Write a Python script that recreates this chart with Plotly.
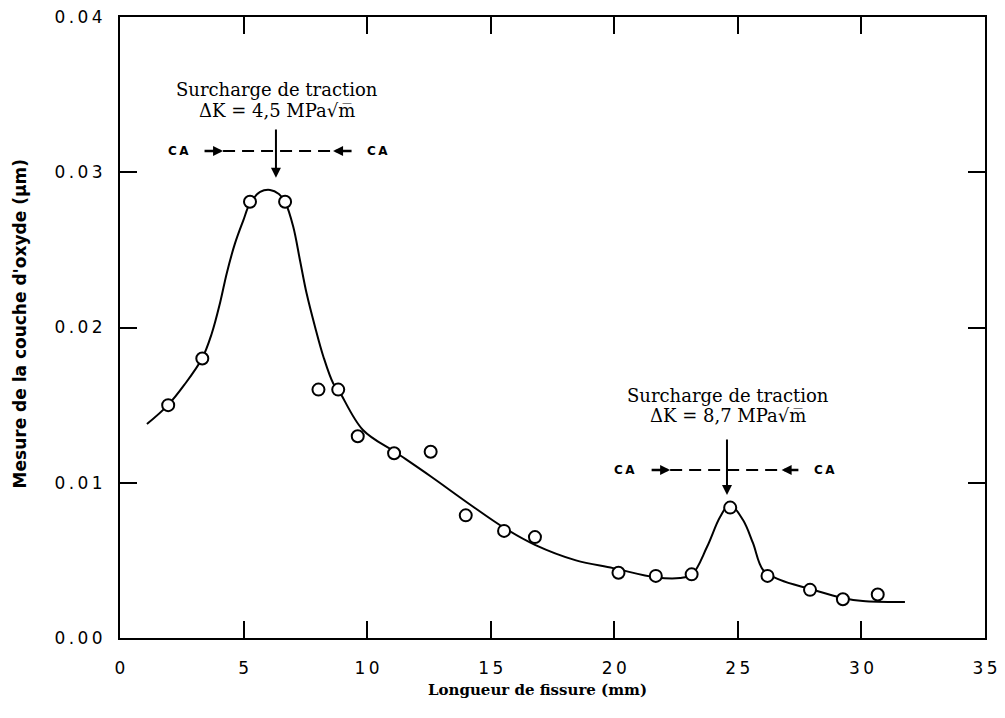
import plotly.graph_objects as go

# ---- data ----
point_x = [1.95, 3.33, 5.26, 6.68, 8.03, 8.83, 9.62, 11.09, 12.57, 13.99,
           15.54, 16.79, 20.17, 21.68, 23.13, 24.69, 26.2, 27.92, 29.25, 30.66]
point_y = [0.0150, 0.0180, 0.0281, 0.0281, 0.0160, 0.0160, 0.0130, 0.0119, 0.0120, 0.0079,
           0.0069, 0.0065, 0.0042, 0.0040, 0.0041, 0.0084, 0.0040, 0.0031, 0.0025, 0.0028]

curve_x = [1.09, 1.94, 2.60, 3.32, 3.71, 4.05, 4.32, 4.65, 4.99, 5.26, 5.67, 6.07, 6.43,
           6.68, 7.01, 7.28, 7.55, 7.89, 8.23, 8.63, 8.83, 9.83, 11.21, 12.58, 14.16,
           15.54, 16.79, 18.45, 19.95, 21.69, 22.66, 23.15, 23.75, 24.28, 24.67, 25.21,
           25.61, 26.02, 26.71, 27.92, 29.25, 30.06, 31.76]
curve_y = [0.01378, 0.0150, 0.0163, 0.0180, 0.0196, 0.0216, 0.0235, 0.0254, 0.0269, 0.0280,
           0.02873, 0.02886, 0.0286, 0.02808, 0.02649, 0.02435, 0.0222, 0.02005, 0.01812,
           0.0164, 0.0160, 0.0134, 0.0119, 0.0104, 0.0086, 0.0071, 0.0060, 0.0050, 0.0045,
           0.0039, 0.00386, 0.0041, 0.00586, 0.00779, 0.0086, 0.0076, 0.00612, 0.00438,
           0.00374, 0.00316, 0.00258, 0.00238, 0.00232]

x_ticks = [0, 5, 10, 15, 20, 25, 30, 35]
y_ticks = [0.0, 0.01, 0.02, 0.03, 0.04]
y_ticklabels = ["0.00", "0.01", "0.02", "0.03", "0.04"]

x_title = "Longueur de fissure (mm)"
y_title = "Mesure de la couche d'oxyde (µm)"
overload_title = ["Surcharge de traction", "Surcharge de traction"]
overload_dk = ["ΔK = 4,5 MPa√m̅", "ΔK = 8,7 MPa√m̅"]
ca_label = "C\u2009A"

THIN = "\u2009"
def spaced(s):
    return THIN.join(list(s))

fig = go.Figure()
fig.add_trace(go.Scatter(x=curve_x, y=curve_y, mode="lines",
                         line=dict(color="black", width=2, shape="spline", smoothing=1.0),
                         hoverinfo="skip", showlegend=False))
fig.add_trace(go.Scatter(x=point_x, y=point_y, mode="markers",
                         marker=dict(symbol="circle", size=12, color="white",
                                     line=dict(color="black", width=2)),
                         showlegend=False))

tick_font = dict(family="DejaVu Sans", size=17, color="black")
fig.update_xaxes(range=[0, 35], tickvals=x_ticks, ticktext=[spaced(str(v)) for v in x_ticks],
                 ticks="inside", ticklen=17, tickwidth=2, tickcolor="black",
                 showline=True, linewidth=2, linecolor="black", mirror="ticks",
                 showgrid=False, zeroline=False, tickfont=tick_font, ticklabelstandoff=14,
                 automargin=False, ticklabeloverflow="allow")
fig.update_yaxes(range=[0, 0.04], tickvals=y_ticks, ticktext=[spaced(t) for t in y_ticklabels],
                 ticks="inside", ticklen=17, tickwidth=2, tickcolor="black",
                 showline=True, linewidth=2, linecolor="black", mirror="ticks",
                 showgrid=False, zeroline=False, tickfont=tick_font, ticklabelstandoff=12,
                 automargin=False, ticklabeloverflow="allow")

annotations = []
shapes = []
serif = dict(family="DejaVu Serif", size=18, color="black")
ca_font = dict(family="DejaVu Sans", size=12, color="black", weight="bold")

# overload marks: (text_x, line1_y, line2_y, arrow_x, arrow_top, arrow_tip,
#                  dash_y, ca_left, arr_l0, arr_l1, arr_r0, arr_r1, ca_right)
marks = [
    (6.37, 0.0353, 0.0340, 6.31, 0.03285, 0.02965, 0.03137, 2.35, 3.36, 4.17, 9.43, 8.62, 10.42),
    (24.61, 0.01565, 0.01436, 24.56, 0.01288, 0.00921, 0.01082, 20.43, 21.45, 22.26, 27.51, 26.77, 28.49),
]
for i, m in enumerate(marks):
    tx, l1, l2, axx, atop, atip, dy, cal, al0, al1, ar0, ar1, car = m
    annotations.append(dict(x=tx, y=l1, xref="x", yref="y", text=overload_title[i],
                            showarrow=False, font=serif, xanchor="center", yanchor="middle"))
    annotations.append(dict(x=tx, y=l2, xref="x", yref="y", text=overload_dk[i],
                            showarrow=False, font=serif, xanchor="center", yanchor="middle"))
    annotations.append(dict(x=axx, y=atip, ax=axx, ay=atop, xref="x", yref="y",
                            axref="x", ayref="y", text="", showarrow=True,
                            arrowhead=2, arrowsize=1, arrowwidth=2, arrowcolor="black"))
    annotations.append(dict(x=al1, y=dy, ax=al0, ay=dy, xref="x", yref="y",
                            axref="x", ayref="y", text="", showarrow=True,
                            arrowhead=2, arrowsize=0.8, arrowwidth=2.5, arrowcolor="black"))
    annotations.append(dict(x=ar1, y=dy, ax=ar0, ay=dy, xref="x", yref="y",
                            axref="x", ayref="y", text="", showarrow=True,
                            arrowhead=2, arrowsize=0.8, arrowwidth=2.5, arrowcolor="black"))
    annotations.append(dict(x=cal, y=dy, xref="x", yref="y", text=ca_label, showarrow=False,
                            font=ca_font, xanchor="center", yanchor="middle"))
    annotations.append(dict(x=car, y=dy, xref="x", yref="y", text=ca_label, showarrow=False,
                            font=ca_font, xanchor="center", yanchor="middle"))
    shapes.append(dict(type="line", xref="x", yref="y", x0=al1, x1=ar1, y0=dy, y1=dy,
                       line=dict(color="black", width=2, dash="12px,7px")))

annotations.append(dict(x=0.483, y=-0.084, xref="paper", yref="paper", text=x_title,
                        showarrow=False, xanchor="center", yanchor="middle",
                        font=dict(family="DejaVu Serif", size=15, color="black", weight="bold")))
annotations.append(dict(x=-0.1156, y=0.505, xref="paper", yref="paper", text=y_title,
                        showarrow=False, xanchor="center", yanchor="middle", textangle=-90,
                        font=dict(family="DejaVu Sans", size=17, color="black", weight="bold")))

# page body has an 8px margin, so the figure is sized to keep the plot frame in place
fig.update_layout(width=997, height=710, margin=dict(l=112, r=20, t=9, b=80),
                  paper_bgcolor="white", plot_bgcolor="white",
                  annotations=annotations, shapes=shapes, showlegend=False)

fig.write_html("out.html")
